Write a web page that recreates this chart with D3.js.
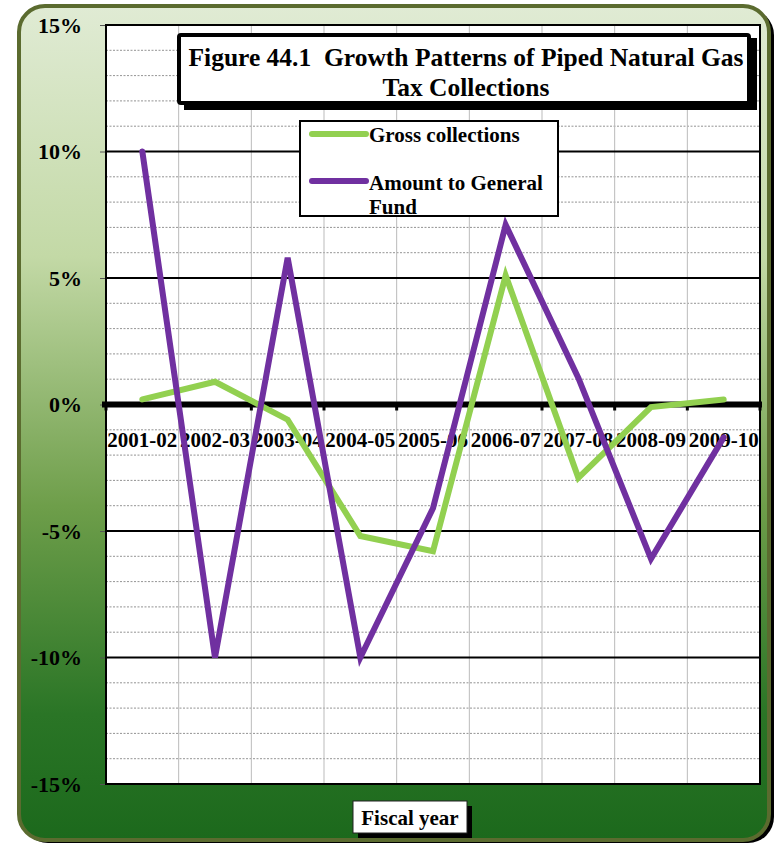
<!DOCTYPE html>
<html><head><meta charset="utf-8">
<script src="https://cdn.jsdelivr.net/npm/d3@7"></script>
<style>body{margin:0;background:#fff;} text{font-family:"Liberation Serif","Times New Roman",serif;font-weight:bold;}</style>
</head><body><svg id="c" width="778" height="843"></svg>
<script>
const categories = ["2001-02","2002-03","2003-04","2004-05","2005-06","2006-07","2007-08","2008-09","2009-10"];
const gross = [0.2, 0.9, -0.6, -5.2, -5.8, 5.1, -2.9, -0.1, 0.2];
const generalFund = [10.0, -10.0, 5.8, -10.0, -4.1, 7.1, 1.05, -6.1, -1.3];
const yTicks = [15, 10, 5, 0, -5, -10, -15];
const seriesNames = ["Gross collections", "Amount to General Fund"];
const colors = ["#92d050", "#7030a0"];

const svg = d3.select("#c");
const defs = svg.append("defs");
const grad = defs.append("linearGradient").attr("id","bg").attr("x1",0).attr("y1",0).attr("x2",0).attr("y2",1);
grad.append("stop").attr("offset","0%").attr("stop-color","#e0ebd4");
grad.append("stop").attr("offset","30%").attr("stop-color","#c3d9a6");
grad.append("stop").attr("offset","60%").attr("stop-color","#6e9e4a");
grad.append("stop").attr("offset","85%").attr("stop-color","#2a7526");
grad.append("stop").attr("offset","100%").attr("stop-color","#1c691c");

// outer frame shadow + frame
svg.append("rect").attr("x",22).attr("y",9).attr("width",752).attr("height",834).attr("rx",26).attr("fill","#000");
svg.append("rect").attr("x",19).attr("y",6).attr("width",750).attr("height",834).attr("rx",26)
  .attr("fill","url(#bg)").attr("stroke","#5b6b2f").attr("stroke-width",4);

const L=106, R=760, T=25, B=784;
const x = d3.scaleBand().domain(categories).range([L,R]);
const y = d3.scaleLinear().domain([-15,15]).range([B,T]);

svg.append("rect").attr("x",L).attr("y",T).attr("width",R-L).attr("height",B-T).attr("fill","#fff");

// minor dashed gridlines
const minor = d3.range(-15,16,1).filter(v => v%5!==0);
svg.append("g").selectAll("line").data(minor).join("line")
  .attr("x1",L).attr("x2",R).attr("y1",d=>y(d)).attr("y2",d=>y(d))
  .attr("stroke","#777").attr("stroke-width",0.8).attr("stroke-dasharray","2,1.5");
// vertical gridlines
const bounds = categories.slice(1).map(c=>x(c));
svg.append("g").selectAll("line").data(bounds).join("line")
  .attr("x1",d=>d).attr("x2",d=>d).attr("y1",T).attr("y2",B)
  .attr("stroke","#bbb").attr("stroke-width",1);
// major gridlines
svg.append("g").selectAll("line").data(yTicks.filter(v=>v!==0 && Math.abs(v)!==15)).join("line")
  .attr("x1",L).attr("x2",R).attr("y1",d=>y(d)).attr("y2",d=>y(d))
  .attr("stroke","#000").attr("stroke-width",2);

// y axis
const yAxis = svg.append("g").attr("transform",`translate(${L},0)`)
  .call(d3.axisLeft(y).tickValues(yTicks).tickSize(6).tickFormat(d=>d+"%"));
yAxis.select(".domain").remove();
yAxis.selectAll("line").attr("stroke","#555");
yAxis.selectAll("text").attr("x",-24).attr("font-size",22).attr("fill","#000")
  .style("font-family",'"Liberation Serif",serif').style("font-weight","bold");

// x labels
svg.append("g").selectAll("text").data(categories).join("text")
  .attr("x",d=>x(d)+x.bandwidth()/2).attr("y",y(0)+42).attr("text-anchor","middle")
  .attr("font-size",21).attr("fill","#000").text(d=>d);

// plot border
svg.append("rect").attr("x",L).attr("y",T).attr("width",R-L).attr("height",B-T).attr("fill","none").attr("stroke","#000").attr("stroke-width",2);

// zero axis
svg.append("line").attr("x1",L-4).attr("x2",R+2).attr("y1",y(0)).attr("y2",y(0)).attr("stroke","#000").attr("stroke-width",6);
svg.append("g").selectAll("line").data([L,...bounds,R]).join("line")
  .attr("x1",d=>d).attr("x2",d=>d).attr("y1",y(0)).attr("y2",y(0)+6).attr("stroke","#000").attr("stroke-width",3);

// lines
const line = d3.line().x((d,i)=>x(categories[i])+x.bandwidth()/2).y(d=>y(d));
[gross, generalFund].forEach((s,k)=>{
  svg.append("path").datum(s).attr("d",line).attr("fill","none")
    .attr("stroke",colors[k]).attr("stroke-width",6).attr("stroke-linejoin","miter").attr("stroke-linecap","round");
});

// title box
svg.append("rect").attr("x",184).attr("y",38).attr("width",573).attr("height",72).attr("fill","#000");
svg.append("rect").attr("x",179).attr("y",35).attr("width",570).attr("height",68).attr("fill","#fff").attr("stroke","#000").attr("stroke-width",4).attr("rx",2);
svg.append("text").attr("x",466).attr("y",66).attr("text-anchor","middle").attr("font-size",25.5).attr("xml:space","preserve").text("Figure 44.1  Growth Patterns of Piped Natural Gas");
svg.append("text").attr("x",466).attr("y",96).attr("text-anchor","middle").attr("font-size",25.5).text("Tax Collections");

// legend
svg.append("rect").attr("x",300).attr("y",121).attr("width",258).attr("height",95).attr("fill","#fff").attr("stroke","#000").attr("stroke-width",2);
const ly = [134, 181];
svg.append("g").selectAll("line").data(seriesNames).join("line")
  .attr("x1",312).attr("x2",366).attr("y1",(d,i)=>ly[i]).attr("y2",(d,i)=>ly[i])
  .attr("stroke",(d,i)=>colors[i]).attr("stroke-width",6).attr("stroke-linecap","round");
svg.append("text").attr("x",369).attr("y",142).attr("font-size",21).text(seriesNames[0]);
svg.append("text").attr("x",369).attr("y",190).attr("font-size",21).text("Amount to General");
svg.append("text").attr("x",369).attr("y",214).attr("font-size",21).text("Fund");

// axis title box
svg.append("rect").attr("x",358).attr("y",806).attr("width",114).attr("height",32).attr("fill","#000");
svg.append("rect").attr("x",353).attr("y",801).attr("width",114).attr("height",32).attr("fill","#fff").attr("stroke","#222").attr("stroke-width",1);
svg.append("text").attr("x",410).attr("y",825).attr("text-anchor","middle").attr("font-size",21).text("Fiscal year");
</script></body></html>
